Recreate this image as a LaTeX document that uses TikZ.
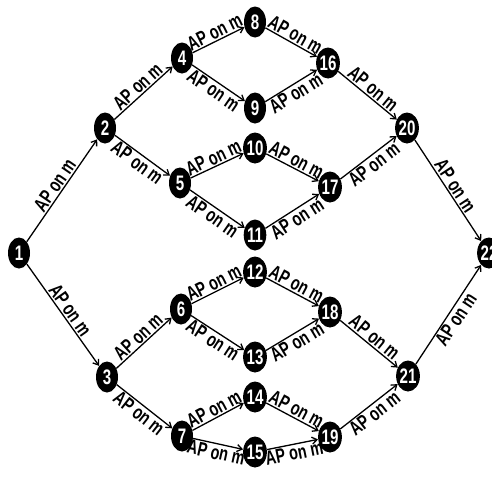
\documentclass[tikz,border=0pt]{standalone}
\usepackage{fontspec}
\setmainfont{Liberation Sans}
\newfontfamily\narrowfont[FakeStretch=0.72]{Liberation Sans}
\usetikzlibrary{
	positioning,
	arrows.meta,
	shapes.geometric
}

\begin{document}
\begin{tikzpicture}[x=1pt,y=-1pt,
	vertex/.style={ellipse,fill=black,text=white,inner sep=0pt,minimum width=22pt,minimum height=31pt,font=\narrowfont\bfseries\fontsize{21}{21}\selectfont},
	arc/.style={line width=1.3pt,-{Straight Barb[length=5pt,width=7pt]}},
	lab/.style={sloped,inner sep=1.2pt,font=\narrowfont\bfseries\fontsize{20}{20}\selectfont}
	]

			\useasboundingbox (0,0) rectangle (492,479);

			\node[vertex] (n1) at (19,253) {1};
			\node[vertex] (n2) at (105,128) {2};
			\node[vertex] (n3) at (107,377) {3};
			\node[vertex] (n4) at (182,58) {4};
			\node[vertex] (n5) at (180,183) {5};
			\node[vertex] (n6) at (181,309) {6};
			\node[vertex] (n7) at (182,436) {7};
			\node[vertex] (n8) at (255,22) {8};
			\node[vertex] (n9) at (255,108) {9};
			\node[vertex] (n10) at (255,148) {10};
			\node[vertex] (n11) at (255,235) {11};
			\node[vertex] (n12) at (255,272) {12};
			\node[vertex] (n13) at (255,357) {13};
			\node[vertex] (n14) at (255,397) {14};
			\node[vertex] (n15) at (255,452) {15};
			\node[vertex] (n16) at (328,63) {16};
			\node[vertex] (n17) at (330,187) {17};
			\node[vertex] (n18) at (330,312) {18};
			\node[vertex] (n19) at (330,437) {19};
			\node[vertex] (n20) at (407,128) {20};
			\node[vertex] (n21) at (408,376) {21};
			\node[vertex] (n22) at (489,253) {22};

			\draw[arc] (n1) -- node[lab,above] {AP on m} (n2);
			\draw[arc] (n1) -- node[lab,above] {AP on m} (n3);
			\draw[arc] (n2) -- node[lab,above] {AP on m} (n4);
			\draw[arc] (n2) -- node[lab,below] {AP on m} (n5);
			\draw[arc] (n3) -- node[lab,above] {AP on m} (n6);
			\draw[arc] (n3) -- node[lab,below] {AP on m} (n7);
			\draw[arc] (n4) -- node[lab,above] {AP on m} (n8);
			\draw[arc] (n4) -- node[lab,below] {AP on m} (n9);
			\draw[arc] (n5) -- node[lab,above] {AP on m} (n10);
			\draw[arc] (n5) -- node[lab,below] {AP on m} (n11);
			\draw[arc] (n6) -- node[lab,above] {AP on m} (n12);
			\draw[arc] (n6) -- node[lab,below] {AP on m} (n13);
			\draw[arc] (n7) -- node[lab,above] {AP on m} (n14);
			\draw[arc] (n7) -- node[lab,below] {AP on m} (n15);
			\draw[arc] (n8) -- node[lab,above] {AP on m} (n16);
			\draw[arc] (n9) -- node[lab,below] {AP on m} (n16);
			\draw[arc] (n10) -- node[lab,above] {AP on m} (n17);
			\draw[arc] (n11) -- node[lab,below] {AP on m} (n17);
			\draw[arc] (n12) -- node[lab,above] {AP on m} (n18);
			\draw[arc] (n13) -- node[lab,below] {AP on m} (n18);
			\draw[arc] (n14) -- node[lab,above] {AP on m} (n19);
			\draw[arc] (n15) -- node[lab,below] {AP on m} (n19);
			\draw[arc] (n16) -- node[lab,above] {AP on m} (n20);
			\draw[arc] (n17) -- node[lab,below] {AP on m} (n20);
			\draw[arc] (n18) -- node[lab,above] {AP on m} (n21);
			\draw[arc] (n19) -- node[lab,below] {AP on m} (n21);
			\draw[arc] (n20) -- node[lab,above] {AP on m} (n22);
			\draw[arc] (n21) -- node[lab,below] {AP on m} (n22);

\end{tikzpicture}
\end{document}
